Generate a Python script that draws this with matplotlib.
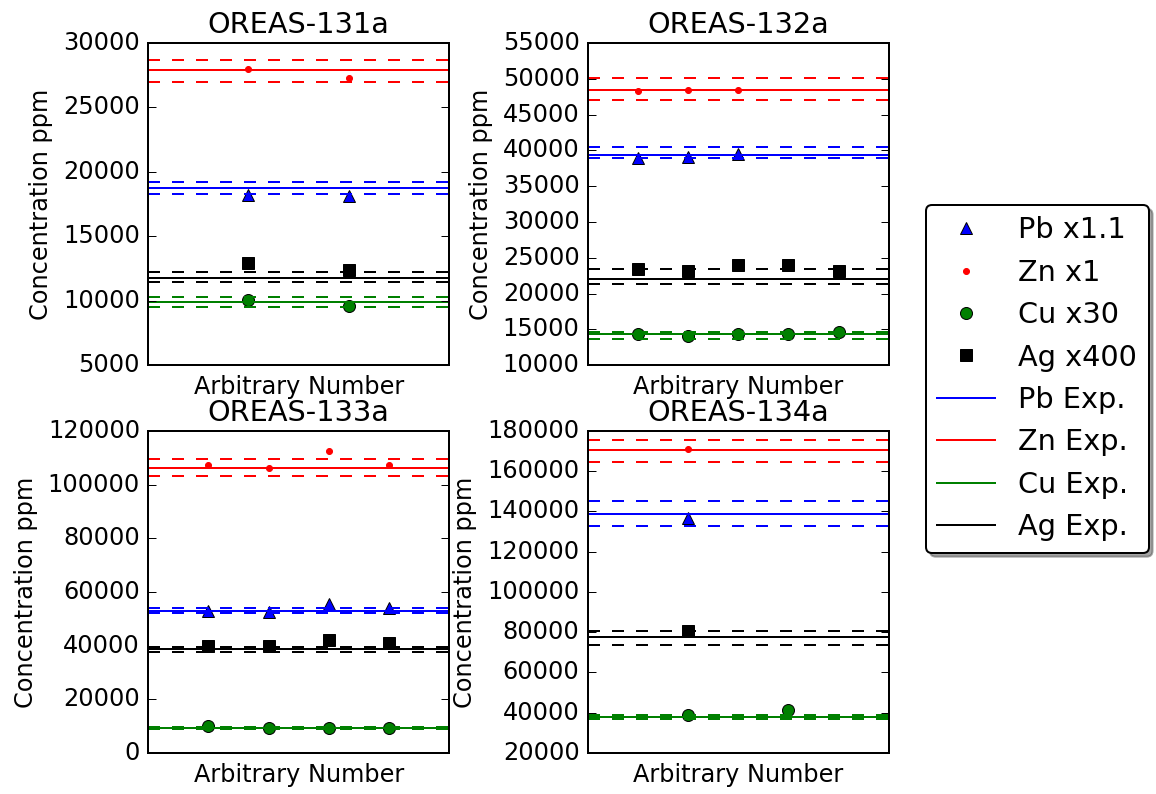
import matplotlib
matplotlib.use('Agg')
import matplotlib.pyplot as plt

plt.style.use('classic')
plt.rcParams['figure.facecolor'] = 'white'
plt.rcParams['savefig.facecolor'] = 'white'

# sample names
SAMPLES = ['OREAS-131a', 'OREAS-132a', 'OREAS-133a', 'OREAS-134a']

# measured (scaled) concentrations, ppm
PB = [[18230, 18150],
      [38880, 39080, 39540],
      [52960, 52710, 55700, 54100],
      [136620]]
ZN = [[27970, 27270],
      [48310, 48450, 48450],
      [107400, 106170, 112400, 107400],
      [171180]]
CU = [[10060, 9630],
      [14320, 14080, 14320, 14320, 14690],
      [10090, 9470, 9470, 9470],
      [39080, 41570]]
AG = [[12940, 12370],
      [23380, 23100, 23930, 23980, 23100],
      [39740, 39740, 42240, 41120],
      [80650]]

# expected values (scaled) and lower / upper limits
PB_EXP = [18740, 39400, 53090, 138780]
PB_LO = [18300, 38880, 52220, 132800]
PB_HI = [19180, 40470, 53950, 144950]
ZN_EXP = [27910, 48450, 106280, 170680]
ZN_LO = [26970, 47020, 103060, 164700]
ZN_HI = [28680, 50170, 109650, 175660]
CU_EXP = [9870, 14320, 9350, 37780]
CU_LO = [9500, 13720, 8950, 36790]
CU_HI = [10300, 14640, 9750, 39080]
AG_EXP = [11790, 22080, 38770, 77460]
AG_LO = [11430, 21290, 37650, 73820]
AG_HI = [12250, 23380, 39630, 80650]

YLIMS = [(5000, 30000), (10000, 55000), (0, 120000), (20000, 180000)]

fig, axes = plt.subplots(2, 2, figsize=(1156/144., 794/144.), dpi=144)
fig.subplots_adjust(left=0.128, right=0.769, bottom=0.0516, top=0.9458,
                    wspace=0.458, hspace=0.204)

for i, ax in enumerate(axes.flat):
    n = max(len(PB[i]), len(ZN[i]), len(CU[i]), len(AG[i]))
    ax.plot(range(1, len(PB[i])+1), PB[i], 'b^', label='Pb x1.1')
    ax.plot(range(1, len(ZN[i])+1), ZN[i], 'r.', label='Zn x1')
    ax.plot(range(1, len(CU[i])+1), CU[i], 'go', label='Cu x30')
    ax.plot(range(1, len(AG[i])+1), AG[i], 'ks', label='Ag x400')
    for c, e, lo, hi, lab in [('b', PB_EXP, PB_LO, PB_HI, 'Pb Exp.'),
                              ('r', ZN_EXP, ZN_LO, ZN_HI, 'Zn Exp.'),
                              ('g', CU_EXP, CU_LO, CU_HI, 'Cu Exp.'),
                              ('k', AG_EXP, AG_LO, AG_HI, 'Ag Exp.')]:
        ax.axhline(e[i], color=c, label=lab)
        ax.axhline(lo[i], color=c, ls='--')
        ax.axhline(hi[i], color=c, ls='--')
    ax.set_xlim(0, n+1)
    ax.set_ylim(*YLIMS[i])
    ax.set_xticks([])
    ax.set_title(SAMPLES[i])
    ax.set_xlabel('Arbitrary Number')
    ax.set_ylabel('Concentration ppm')

h, l = axes[0, 0].get_legend_handles_labels()
fig.legend(h, l, loc='center left', bbox_to_anchor=(0.801, 0.523),
           numpoints=1, fancybox=True, shadow=True, borderaxespad=0)

plt.savefig('out.png', dpi=144)
